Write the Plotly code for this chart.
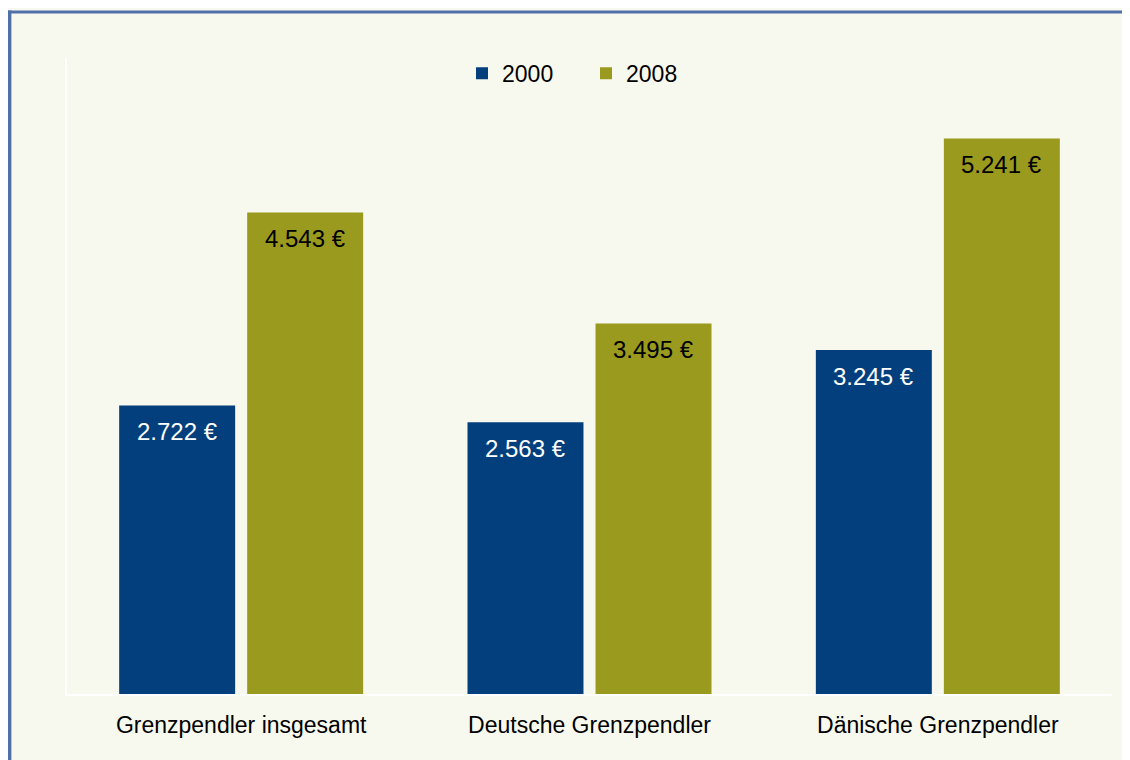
import plotly.graph_objects as go

categories = ["Grenzpendler insgesamt", "Deutsche Grenzpendler", "Dänische Grenzpendler"]
years = ["2000", "2008"]
values_2000 = [2722, 2563, 3245]
values_2008 = [4543, 3495, 5241]
label_2000 = ["2.722 €", "2.563 €", "3.245 €"]
label_2008 = ["4.543 €", "3.495 €", "5.241 €"]

BLUE = "#023F7C"
GREEN = "#9A9A1F"
BG = "#F8F9EE"
FRAME = "#5070A8"
FONT = "Liberation Sans, Arial, sans-serif"

fig = go.Figure()
fig.add_trace(go.Bar(name=years[0], x=categories, y=values_2000, marker_color=BLUE,
                     marker_line_width=0, hoverinfo="skip"))
fig.add_trace(go.Bar(name=years[1], x=categories, y=values_2008, marker_color=GREEN,
                     marker_line_width=0, hoverinfo="skip"))

annotations = []
for i, c in enumerate(categories):
    annotations.append(dict(x=c, y=values_2000[i], xref="x", yref="y", text=label_2000[i],
                            showarrow=False, xshift=-64, yshift=-26, yanchor="middle",
                            font=dict(family=FONT, size=24, color="white")))
    annotations.append(dict(x=c, y=values_2008[i], xref="x", yref="y", text=label_2008[i],
                            showarrow=False, xshift=64, yshift=-26, yanchor="middle",
                            font=dict(family=FONT, size=24, color="black")))

fig.update_layout(
    width=1122, height=752,
    margin=dict(l=59, r=18, t=50, b=66),
    paper_bgcolor=BG,
    plot_bgcolor=BG,
    barmode="group",
    bargap=0.265,
    bargroupgap=0.094,
    font=dict(family=FONT, size=23, color="black"),
    showlegend=True,
    legend=dict(orientation="h", x=0.378, xanchor="left", y=0.976, yanchor="middle",
                bgcolor="rgba(0,0,0,0)", font=dict(family=FONT, size=23, color="black"),
                itemwidth=30, entrywidth=79, entrywidthmode="pixels"),
    xaxis=dict(showline=True, linecolor="white", linewidth=2, ticks="", showgrid=False,
               tickfont=dict(family=FONT, size=23, color="black"), ticklabelstandoff=9),
    yaxis=dict(range=[0, 6000], showline=True, linecolor="white", linewidth=2,
               showgrid=False, zeroline=False, showticklabels=False, ticks=""),
    annotations=annotations,
    shapes=[
        dict(type="line", xref="paper", yref="paper", x0=-0.0549, x1=-0.0549,
             y0=-0.2, y1=1.0745, line=dict(color=FRAME, width=3.5), layer="below"),
        dict(type="line", xref="paper", yref="paper", x0=-0.0565, x1=1.1,
             y0=1.0723, y1=1.0723, line=dict(color=FRAME, width=3), layer="below"),
    ],
)

fig.write_html(
    "out.html",
    post_script="document.documentElement.style.overflow='hidden';"
                "document.body.style.overflow='hidden';",
)
